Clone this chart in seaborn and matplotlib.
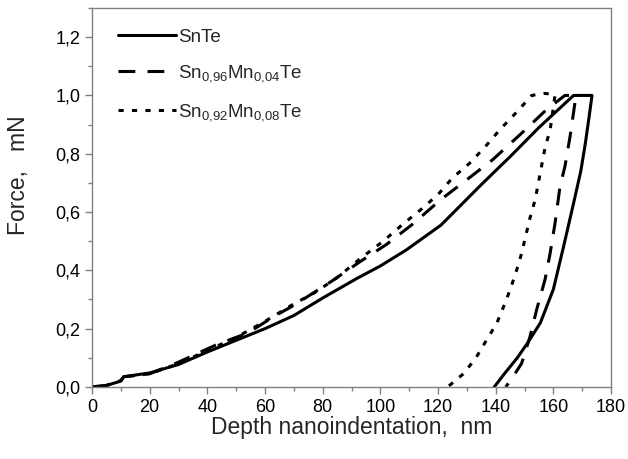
import pandas as pd
import numpy as np
import seaborn as sns
import matplotlib.pyplot as plt
from matplotlib.ticker import MultipleLocator

# SnTe : loading, hold, unloading
snte_x = [0, 5, 10, 11, 20, 30, 40, 50, 60, 70, 80, 92, 100, 109, 121, 135, 145, 155, 167,
          173.4, 172.3, 171, 169.5, 167, 163.5, 160, 155.5, 151, 147.5, 143, 139.5]
snte_y = [0, 0.005, 0.02, 0.035, 0.048, 0.077, 0.12, 0.16, 0.2, 0.245, 0.305, 0.373, 0.415, 0.47, 0.555, 0.694, 0.79, 0.89, 1.0,
          1.0, 0.92, 0.83, 0.74, 0.63, 0.48, 0.335, 0.22, 0.15, 0.1, 0.045, 0.0]

# Sn0.96Mn0.04Te
mn04_x = [0, 5, 10, 11, 20, 30, 43, 54, 63, 70, 83, 93, 102, 111, 121, 130, 139, 148.5, 157.7, 164, 167,
          167.5, 165.8, 164, 162.3, 160.6, 158.9, 157.1, 154.2, 151.9, 149, 146, 143.5]
mn04_y = [0, 0.005, 0.022, 0.035, 0.045, 0.085, 0.144, 0.185, 0.241, 0.28, 0.362, 0.43, 0.488, 0.557, 0.643, 0.711, 0.78, 0.866, 0.952, 1.0, 1.0,
          0.976, 0.86, 0.756, 0.688, 0.563, 0.46, 0.368, 0.265, 0.173, 0.081, 0.035, 0.0]

# Sn0.92Mn0.08Te
mn08_x = [0, 5, 10, 11, 20, 30, 40, 50, 60, 70, 77, 85, 93, 101, 108, 114, 120, 125, 131, 136, 141.5, 147, 152.5, 157, 160.6,
          158.9, 157.1, 156, 154.8, 153.7, 151.9, 150.5, 149, 147.3, 145.2, 143, 140.4, 136.9, 133.1, 128.8, 124.2, 123]
mn08_y = [0, 0.005, 0.022, 0.035, 0.045, 0.08, 0.125, 0.17, 0.225, 0.285, 0.322, 0.375, 0.44, 0.5, 0.56, 0.608, 0.66, 0.717, 0.768, 0.82, 0.883, 0.94, 1.0, 1.007, 1.003,
          0.883, 0.82, 0.763, 0.7, 0.643, 0.58, 0.522, 0.459, 0.402, 0.339, 0.282, 0.219, 0.162, 0.099, 0.045, 0.007, 0.0]

labels = ["SnTe", "Sn$_{0{,}96}$Mn$_{0{,}04}$Te", "Sn$_{0{,}92}$Mn$_{0{,}08}$Te"]

frames = []
for lab, xs, ys in zip(labels, [snte_x, mn04_x, mn08_x], [snte_y, mn04_y, mn08_y]):
    frames.append(pd.DataFrame({"depth": xs, "force": ys, "sample": lab}))
df = pd.concat(frames, ignore_index=True)

sns.set_style("white")
plt.rcParams['font.family'] = ['Liberation Sans', 'DejaVu Sans']
plt.rcParams['mathtext.fontset'] = 'custom'
plt.rcParams['mathtext.rm'] = 'Liberation Sans'
plt.rcParams['mathtext.it'] = 'Liberation Sans'

fig = plt.figure(figsize=(6.28, 4.59), dpi=100)
ax = fig.add_axes([0.1465, 0.157, 0.8265, 0.8256])

sns.lineplot(data=df, x="depth", y="force", hue="sample", style="sample",
             palette=["black"] * 3, dashes={labels[0]: "", labels[1]: (5.5, 4.0), labels[2]: (1.7, 2.7)},
             sort=False, estimator=None, linewidth=2.2, ax=ax)

ax.set_xlim(0, 180)
ax.set_ylim(0, 1.3)
ax.xaxis.set_major_locator(MultipleLocator(20))
ax.xaxis.set_minor_locator(MultipleLocator(10))
ax.yaxis.set_minor_locator(MultipleLocator(0.1))
ax.set_yticks(np.arange(0, 1.21, 0.2))
ax.set_yticklabels([f"{v:.1f}".replace(".", ",") for v in np.arange(0, 1.21, 0.2)])
ax.tick_params(which="both", direction="out", bottom=True, left=True, color="#808080", labelsize=13, labelcolor="black")
ax.tick_params(which="major", length=5, width=1)
ax.tick_params(which="minor", length=3, width=1)
for s in ax.spines.values():
    s.set_color("#808080")
    s.set_linewidth(1)

ax.set_xlabel("Depth nanoindentation,  nm", fontsize=16.5, labelpad=0)
ax.set_ylabel("Force,   mN", fontsize=16.5)
ax.yaxis.set_label_coords(-0.12, 0.56)

leg = ax.legend(frameon=False, loc="upper left", bbox_to_anchor=(0.018, 0.99), fontsize=13.5,
                handlelength=3.1, handletextpad=0.08, labelspacing=0.95)
for h in leg.get_lines():
    h.set_linewidth(2.2)

fig.savefig("out.png", dpi=100)
